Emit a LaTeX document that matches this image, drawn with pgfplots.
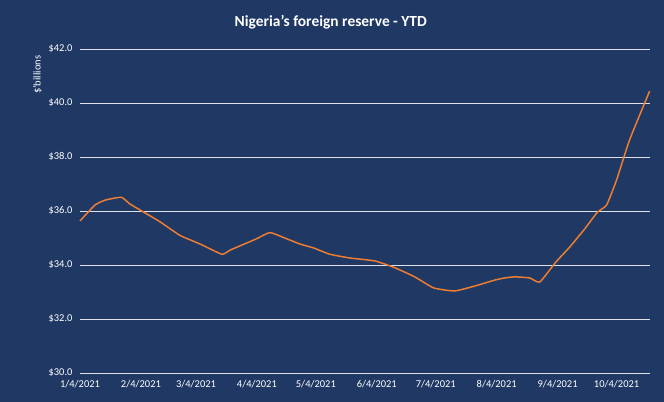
\documentclass[border=0pt]{standalone}
\usepackage{pgfplots}
\pgfplotsset{compat=1.18}
\usepackage{fontspec}
\setmainfont{Carlito}
\definecolor{bg}{HTML}{203864}
\definecolor{ln}{HTML}{ED7D31}
\begin{document}
\begin{tikzpicture}
\fill[bg] (0,0) rectangle (664bp,402bp);
\begin{axis}[at={(80bp,29bp)},anchor=south west,width=570bp,height=324bp,scale only axis,
 xmin=0,xmax=290,ymin=30,ymax=42,
 xtick={0,31,59,90,120,151,181,212,243,273},
 xticklabels={1/4/2021,2/4/2021,3/4/2021,4/4/2021,5/4/2021,6/4/2021,7/4/2021,8/4/2021,9/4/2021,10/4/2021},
 ytick={30,32,...,42},
 yticklabel={\$\pgfmathprintnumber[fixed,fixed zerofill,precision=1]{\tick}},
 /pgf/number format/assume math mode=true,
 ymajorgrids, grid style={white!85!bg,line width=0.6pt},
 axis line style={draw=none}, tick style={draw=none},
 ticklabel style={white,font=\fontsize{10.5}{12}\selectfont},
 xticklabel style={yshift=-4bp},
 yticklabel style={xshift=-4bp},
 ylabel={\$'billions},ylabel style={white,font=\fontsize{10.5}{12}\selectfont,at={(ticklabel cs:0.92)},anchor=south},
 title={\textbf{Nigeria's foreign reserve - YTD}},
 title style={white,font=\fontsize{15.5}{18}\selectfont,at={(0.44,1)},yshift=10bp},
 clip=false]
\addplot[ln,line width=1.5pt,smooth,tension=0.3] coordinates {
(0,35.63)(7.6,36.22)(12.7,36.4)(17.8,36.48)(21.4,36.5)(25.4,36.26)(30.5,36.04)(40.7,35.6)(50.8,35.1)(61,34.78)(72.2,34.4)(76.3,34.55)(89.5,34.96)(96.6,35.2)(104.2,35.0)(111.8,34.78)(118.9,34.63)(127,34.4)(137.3,34.26)(150,34.15)(160.1,33.9)(170.3,33.56)(180,33.15)(190.6,33.04)(200.8,33.22)(211,33.44)(216,33.52)(221.1,33.56)(228.8,33.52)(233.9,33.37)(242,34.1)(249.1,34.66)(256.7,35.33)(263.3,35.96)(267.9,36.22)(273,37.15)(279.6,38.63)(289.8,40.44)};
\end{axis}
\end{tikzpicture}
\end{document}
